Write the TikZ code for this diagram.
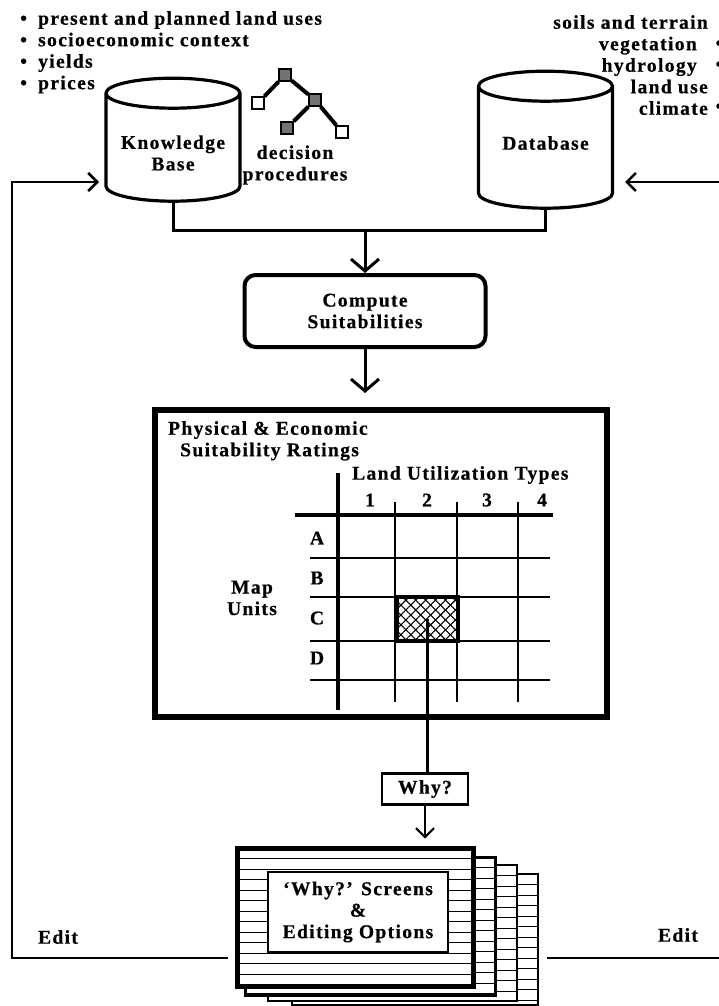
\documentclass[tikz,border=0pt]{standalone}
\usepackage{fontspec}
\setmainfont{Liberation Serif}[LetterSpace=7,WordSpace=1.0,BoldFeatures={FakeBold=0.6}]
\usetikzlibrary{arrows.meta,positioning,shapes.geometric,patterns.meta}

\begin{document}
\begin{tikzpicture}[x=1pt,y=-1pt,align=center,
    font=\bfseries\fontsize{19.5}{21.5}\selectfont,
    lbl/.style={inner sep=0pt},
    store/.style={cylinder,shape border rotate=90,draw,line width=3.2pt,aspect=0.3,text width=100pt,minimum width=134pt,inner sep=0pt},
    proc/.style={draw,line width=4pt,rounded corners=11pt,minimum width=241pt,minimum height=72pt},
    leaf/.style={draw,line width=1.3pt,minimum size=12pt,inner sep=0pt,fill=white},
    inner/.style={leaf,fill=black!55},
    link/.style={line width=3pt},
    flow/.style={line width=3pt,-{Straight Barb[length=12pt,width=28pt]}},
    fb/.style={line width=2.6pt,-{Straight Barb[length=9pt,width=18pt]}},
    grid/.style={line width=1.8pt},
    axis/.style={line width=3.4pt},
    scr/.style={line width=1pt}]
\useasboundingbox (0,0) rectangle (719,1006);

% inputs
\node[lbl,anchor=north west,align=left] (kbitems) at (20,11)
  {\makebox[18pt][l]{•}present and planned land uses\\\makebox[18pt][l]{•}socioeconomic context\\\makebox[18pt][l]{•}yields\\\makebox[18pt][l]{•}prices};
\node[lbl,anchor=north east,align=right] (dbitems) at (708,15)
  {soils and terrain\\vegetation\makebox[11pt]{}\\hydrology\makebox[11pt]{}\\land use\\climate};
\foreach \y in {45,66,108} \node[lbl] at (719,\y) {•};

% stores
\node[store,minimum height=123pt] (kb) at (173,148) {};
\node[lbl] (kbtext) at ([yshift=-5pt]kb.center) {Knowledge\\Base};
\node[store,minimum height=137pt] (db) at (545.5,148) {};
\node[lbl] (dbtext) at ([yshift=5pt]db.center) {Database};

% decision tree
\node[inner] (d1) at (285,75) {};
\node[leaf] (d2) at (258,103) {};
\node[inner] (d3) at (315,100) {};
\node[inner] (d4) at (287,128) {};
\node[leaf] (d5) at (342,132) {};
\draw[link,line width=4pt] (d1) -- (d2) (d1) -- (d3) (d3) -- (d4) (d3) -- (d5);
\node[lbl] (dproc) at (295,165) {decision\\procedures};

% compute
\coordinate (join) at (365,230);
\node[proc] (compute) at (365,311) {Compute\\Suitabilities};
\draw[link] (kb.south) |- (join) -| (db.south);
\draw[flow] (join) -- (compute.north);

% ratings
\node[draw,line width=6pt,minimum width=452pt,minimum height=307pt] (ratings) at (381,563.5) {};
\draw[flow,shorten >=14pt] (compute.south) -- (compute.south |- ratings.north);
\node[lbl,anchor=north west,align=left] (rtitle) at (168,421) {Physical \& Economic\\\hspace*{12pt}Suitability Ratings};
\node[lbl,anchor=west] (lut) at (352,475) {Land Utilization Types};
\foreach \n/\x in {1/370,2/427,3/487,4/542} \node[lbl] (t\n) at (\x,500) {\n};
\foreach \r/\y in {A/538,B/578,C/618,D/658} \node[lbl] (u\r) at (317,\y) {\r};
\node[lbl] (mu) at (252,598) {Map\\Units};
\draw[axis] (338,473) -- (338,710);
\draw[axis] (295,515) -- (553,515);
\foreach \x in {395,457,518} \draw[grid] (\x,502) -- (\x,702);
\foreach \y in {558,597,641,680} \draw[grid] (310,\y) -- (550,\y);
\node[draw,line width=3.4pt,minimum width=61pt,minimum height=44pt,inner sep=0pt,
  pattern={Lines[angle=45,distance=7pt,line width=1.1pt]},
  postaction={pattern={Lines[angle=-45,distance=7pt,line width=1.1pt]}}] (hit) at (427.5,619) {};

% why
\node[draw,line width=2.5pt,minimum width=86pt,minimum height=31pt] (why) at (425,789) {Why?};
\draw[link] (hit.center) -- (hit.center |- why.north);

% screens
\foreach \xa/\ya/\xb/\yb/\lw in {292/874/538/1005/2.4,268/865/517/1001/2.4,245/857/495/995/3}{
  \fill[white] (\xa,\ya) rectangle (\xb,\yb);
  \begin{scope}
    \clip (\xa,\ya) rectangle (\xb,\yb);
    \foreach \k in {1,...,14} \draw[scr] (\xa,{\ya+10.5*\k}) -- (\xb,{\ya+10.5*\k});
  \end{scope}
  \draw[line width=\lw pt] (\xa,\ya) rectangle (\xb,\yb);
}
\node[draw,fill=white,line width=5pt,minimum width=236pt,minimum height=138pt] (front) at (355,917) {};
\foreach \k in {1,...,12} \draw[scr] (237,{848+10.5*\k}) -- (473,{848+10.5*\k});
\node[draw,fill=white,line width=1.3pt,minimum width=180pt,minimum height=80pt,inner sep=0pt] (wbox) at (358,912)
  {`Why?' Screens\\\&\\Editing Options};
\draw[fb,line width=2pt,shorten >=7pt] (why.south) -- (why.south |- front.north);

% edit loops
\coordinate (editLs) at (228,958);
\coordinate (editL) at (12,958);
\coordinate (kbin) at (99,182);
\coordinate (editRs) at (547,958);
\coordinate (editR) at (723,958);
\coordinate (dbin) at (625,182);
\draw[fb] (editLs) -- (editL) |- (kbin);
\draw[fb] (editRs) -- (editR) |- (dbin);
\node[lbl] (editl) at (58,937) {Edit};
\node[lbl] (editr) at (678,935) {Edit};
\end{tikzpicture}
\end{document}
